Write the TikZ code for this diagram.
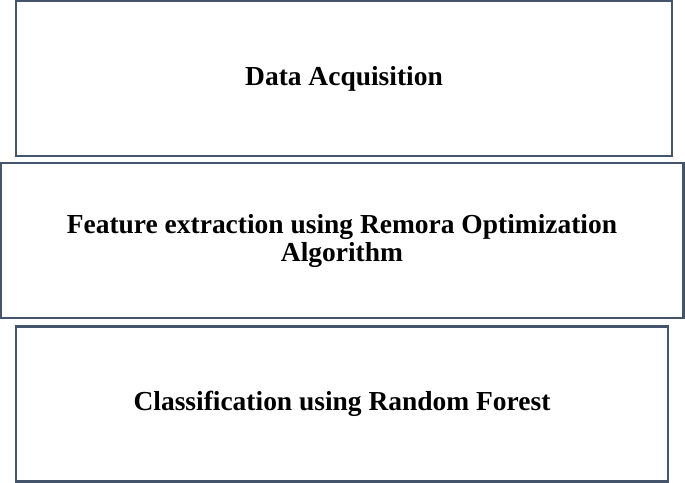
\documentclass[tikz,border=0pt]{standalone}
\usepackage{tikz}
\usepackage{xcolor}
\usepackage{fontspec}
\setmainfont{Liberation Serif}
\definecolor{slate}{HTML}{44546A}

\begin{document}
\begin{tikzpicture}
[x=0.75pt,y=-0.75pt,line width=1.9pt,
stage/.style={draw=slate,fill=white,align=center,inner sep=0pt,
  font=\fontsize{20.6}{21}\selectfont\bfseries}]

\useasboundingbox (0,0) rectangle (685,482);

\node[stage,minimum width=492pt,minimum height=116pt] (acq) at (344,78.5) {Data Acquisition}; %top
\node[stage,minimum width=512pt,minimum height=116pt] (feat) at (342,240.5)
  {Feature extraction using Remora Optimization\\Algorithm}; %middle
\node[stage,minimum width=489pt,minimum height=116pt] (cls) at (342,404) {Classification using Random Forest}; %bottom
\end{tikzpicture}
\end{document}
